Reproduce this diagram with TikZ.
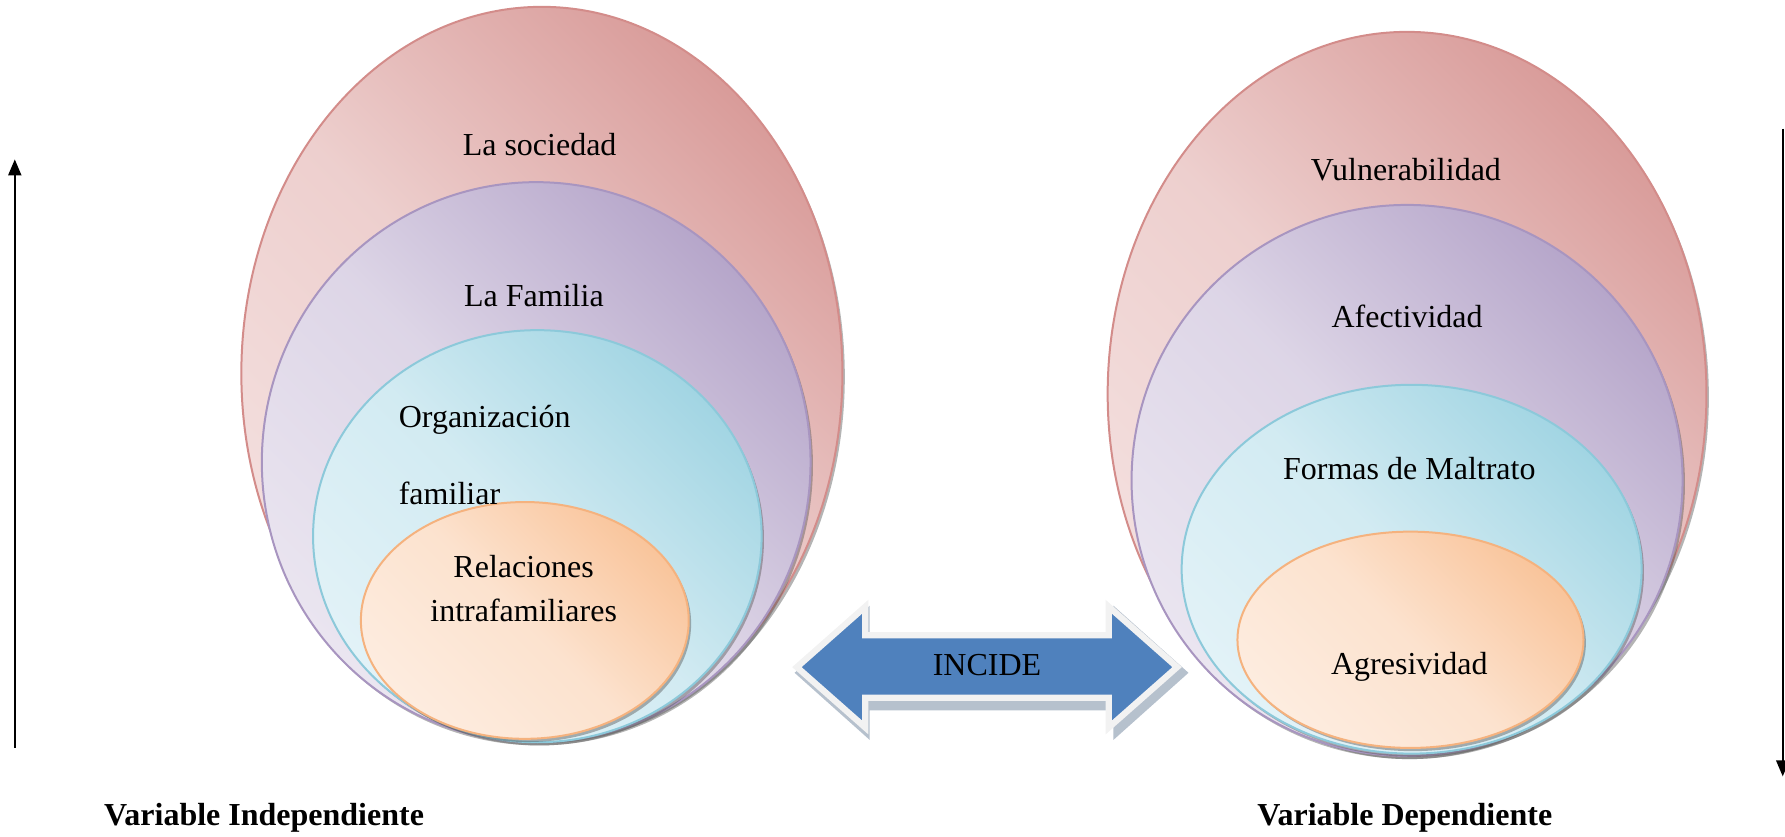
\documentclass[tikz,border=0pt]{standalone}
\usepackage{fontspec}
\setmainfont{Liberation Serif}
\usetikzlibrary{positioning,arrows.meta}

\definecolor{rojoA}{HTML}{F4E0DF}
\definecolor{rojoB}{HTML}{D99C9A}
\definecolor{rojoL}{HTML}{D38C8A}
\definecolor{moradoA}{HTML}{EAE5F0}
\definecolor{moradoB}{HTML}{B6A6CA}
\definecolor{moradoL}{HTML}{A895C0}
\definecolor{cianA}{HTML}{E2F2F7}
\definecolor{cianB}{HTML}{A2D5E3}
\definecolor{cianL}{HTML}{8CC9DA}
\definecolor{naranjaA}{HTML}{FDECDF}
\definecolor{naranjaB}{HTML}{F9C59C}
\definecolor{naranjaL}{HTML}{F5B27E}
\definecolor{azul}{HTML}{4F81BD}

\tikzset{
  capa/.style={line width=1pt, shading angle=-45,
    preaction={fill=black!65, fill opacity=.45,
      transform canvas={xshift=1.2pt, yshift=-1.6pt}}},
  rojo/.style={top color=rojoB, bottom color=rojoA,
    middle color=rojoA!75!rojoB, draw=rojoL, capa},
  morado/.style={top color=moradoB, bottom color=moradoA,
    middle color=moradoA!75!moradoB, draw=moradoL, capa},
  cian/.style={top color=cianB, bottom color=cianA,
    middle color=cianA!75!cianB, draw=cianL, capa},
  naranja/.style={top color=naranjaB, bottom color=naranjaA,
    middle color=naranjaA!75!naranjaB, draw=naranjaL, capa},
  texto/.style={font=\fontsize{16}{19}\selectfont, inner sep=0pt},
  titulo/.style={font=\fontsize{16}{19}\selectfont\bfseries, inner sep=0pt},
  eje/.style={line width=1pt, -{Triangle[length=8pt,width=6.5pt]}},
}

\begin{document}
\begin{tikzpicture}[x=0.02cm, y=-0.02cm]
    \useasboundingbox (0,0) rectangle (1568,735);

    % variable independiente
    \draw [rojo] (476,328) ellipse (264 and 322);
    \draw [morado] (471,406) ellipse (241 and 246);
    \draw [cian] (472,471) ellipse (197 and 181);
    \draw [naranja] (461,545) ellipse (144 and 104);

    % variable dependiente
    \draw [rojo] (1236,346) ellipse (263 and 318);
    \draw [morado] (1236,422) ellipse (242 and 242);
    \draw [cian] (1240,500) ellipse (202 and 162);
    \draw [naranja] (1239,562) ellipse (152 and 95);

    \node [texto] (sociedad) at (474,127) {La sociedad};
    \node [texto] (familia) at (469,260) {La Familia};
    \node [texto, anchor=west] (organizacion) at (350,369) {Organización};
    \node [texto, anchor=west] (familiar) at (350,433) {familiar};
    \node [texto] (relaciones) at (460,498) {Relaciones};
    \node [texto] (intra) at (460,536) {intrafamiliares};

    \node [texto] (vulnerabilidad) at (1235,149) {Vulnerabilidad};
    \node [texto] (afectividad) at (1236,278) {Afectividad};
    \node [texto] (formas) at (1238,412) {Formas de Maltrato};
    \node [texto] (agresividad) at (1238,586) {Agresividad};

    % flecha doble
    \draw [fill=black!40!azul!50, draw=none, opacity=.7, shift={(4,5)}]
      (694,586) -- (760,527) -- (760,552) -- (974,552) -- (974,527)
      -- (1040,586) -- (974,645) -- (974,619) -- (760,619) -- (760,645) -- cycle;
    \draw [fill=azul, draw=black!5, line width=0.11cm, line join=miter]
      (700,586) -- (760,533) -- (760,558) -- (974,558) -- (974,533)
      -- (1034,586) -- (974,639) -- (974,613) -- (760,613) -- (760,639) -- cycle;
    \node [texto] (incide) at (867,584) {INCIDE};

    \node [titulo] (indep) at (232,718) {Variable Independiente};
    \node [titulo] (dep) at (1234,718) {Variable Dependiente};

    \coordinate (indep-a) at (13,657);
    \coordinate (indep-b) at (13,140);
    \coordinate (dep-a) at (1566,113);
    \coordinate (dep-b) at (1566,682);
    \draw [eje] (indep-a) -- (indep-b);
    \draw [eje] (dep-a) -- (dep-b);
\end{tikzpicture}
\end{document}
